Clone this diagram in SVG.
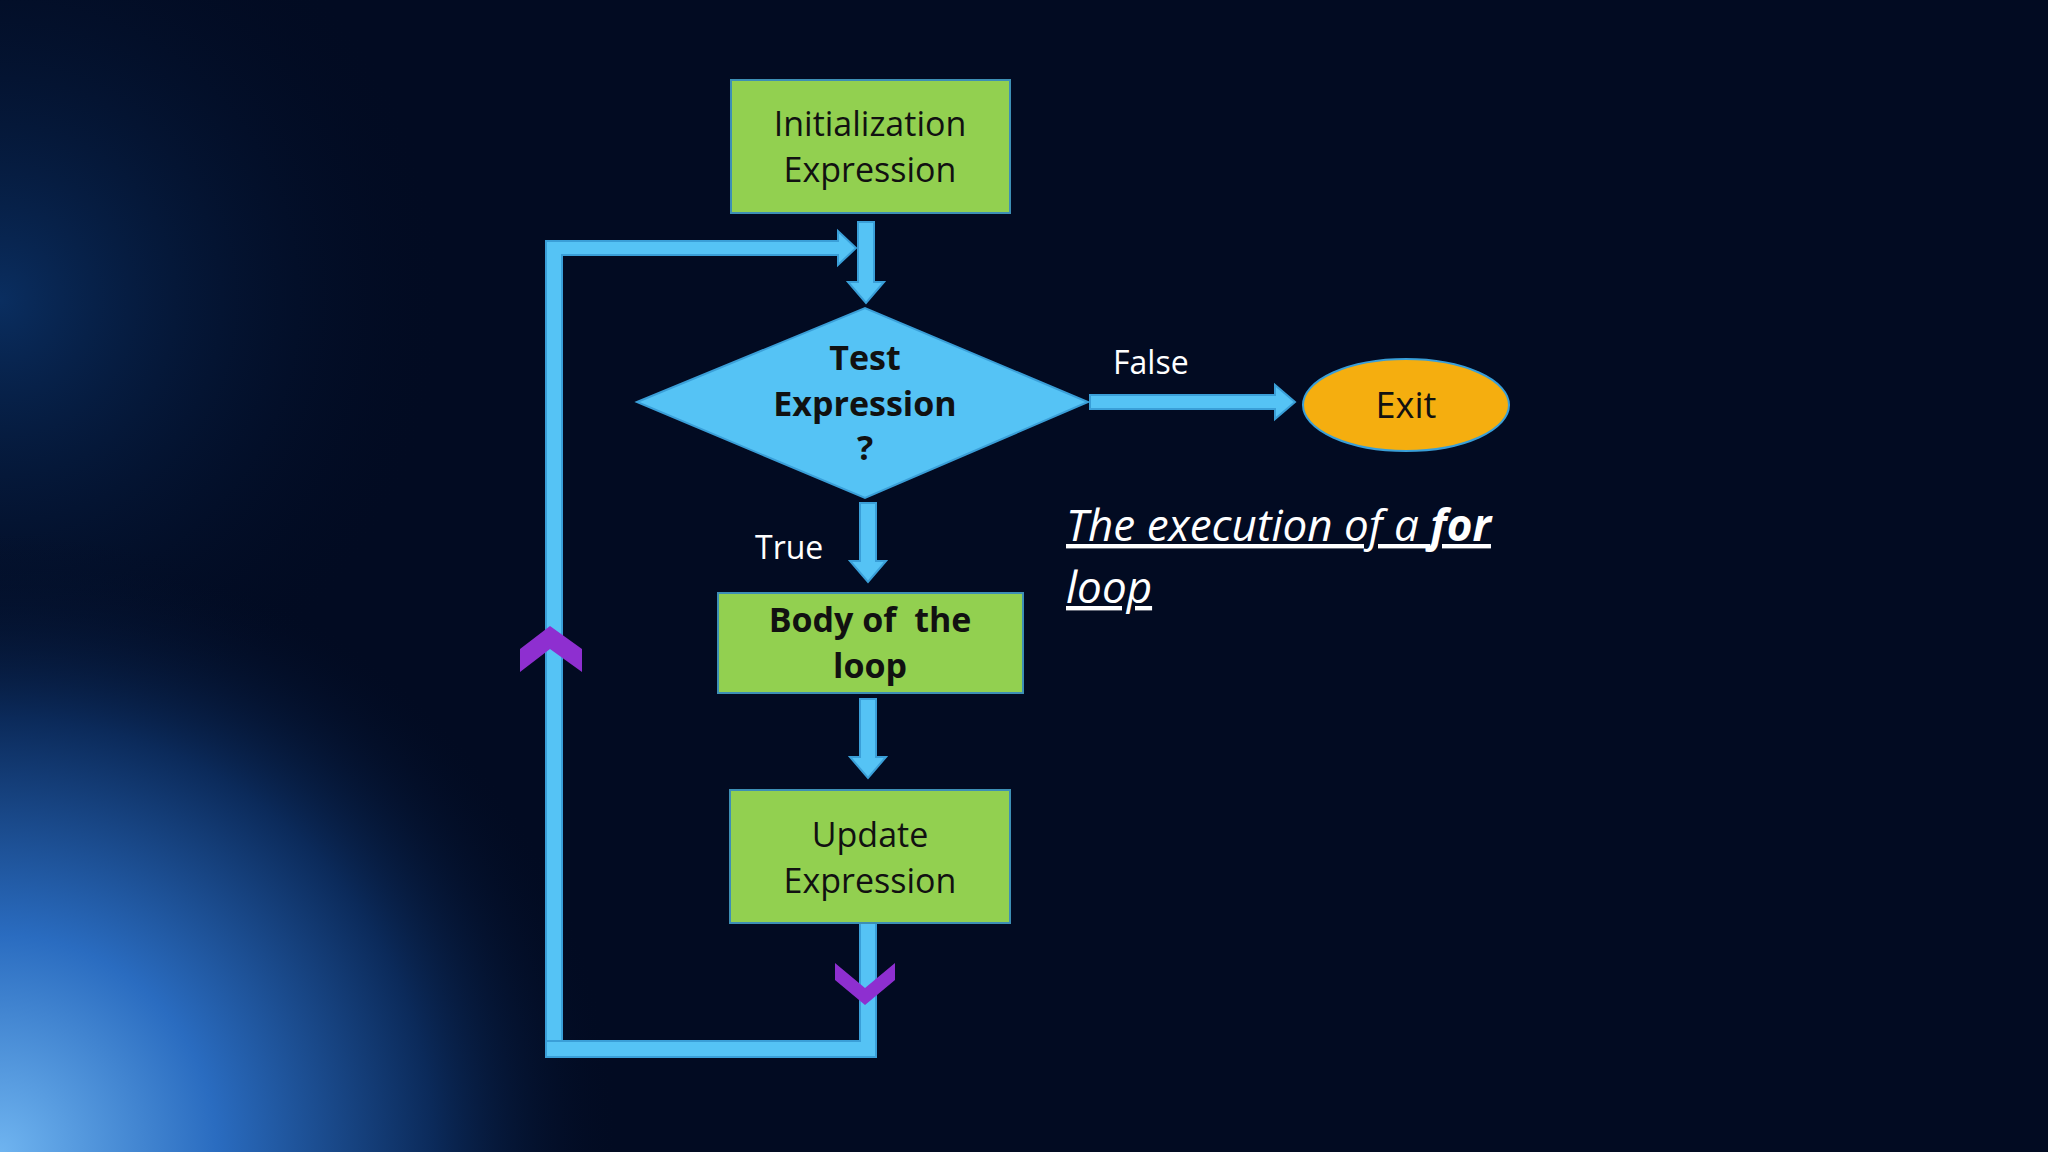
<svg xmlns="http://www.w3.org/2000/svg" width="2048" height="1152" viewBox="0 0 2048 1152">
<defs>
<radialGradient id="bg1" cx="0" cy="1152" r="620" gradientUnits="userSpaceOnUse">
<stop offset="0" stop-color="#6fb4f0"/><stop offset="0.35" stop-color="#2a6cc0"/><stop offset="0.7" stop-color="#0b2a5a"/><stop offset="1" stop-color="#020b22" stop-opacity="0"/>
</radialGradient>
<radialGradient id="bg2" cx="0" cy="300" r="450" gradientUnits="userSpaceOnUse">
<stop offset="0" stop-color="#0a2e60"/><stop offset="1" stop-color="#020b22" stop-opacity="0"/>
</radialGradient>
<style>
.box{fill:#92D050;stroke:#3d8fb5;stroke-width:2}
.arr{fill:#55C3F5;stroke:#3a9fd8;stroke-width:2}
.chev{fill:#8E2FD0}
.t{font-family:"Open Sans","Liberation Sans",sans-serif;font-size:34px;fill:#111;text-anchor:middle}
.b{font-weight:bold}
.w{font-family:"Open Sans","Liberation Sans",sans-serif;font-size:32px;fill:#fff}
</style>
</defs>
<rect width="2048" height="1152" fill="#020b22"/>
<rect width="2048" height="1152" fill="url(#bg2)"/>
<rect width="2048" height="1152" fill="url(#bg1)"/>
<g id="connectors">
<polygon class="arr" points="858,222 874,222 874,282 884,282 866,303 848,282 858,282"/>
<polygon class="arr" points="546,241 838,241 838,231 856,248 838,265 838,255 562,255 562,1041 546,1041"/>
<polygon class="arr" points="860,923 876,923 876,1057 546,1057 546,1041 860,1041"/>
<polygon class="arr" points="1090,395 1275,395 1275,385 1295,402 1275,419 1275,409 1090,409"/>
<polygon class="arr" points="860,503 876,503 876,561 886,561 868,582 850,561 860,561"/>
<polygon class="arr" points="860,699 876,699 876,757 886,757 868,778 850,757 860,757"/>
<polygon class="chev" points="835,963 865,988 895,963 895,980 865,1005 835,980"/>
<polygon class="chev" points="520,649 550,626 582,649 582,672 550,649 520,672"/>
</g>
<g id="init"><rect class="box" x="731" y="80" width="279" height="133"/>
<text class="t" x="870" y="136">Initialization</text><text class="t" x="870" y="182">Expression</text></g>
<g id="test"><polygon points="637,402 865,308 1088,402 865,498" fill="#55C3F5" stroke="#3a9fd8" stroke-width="2"/>
<text class="t b" x="865" y="370">Test</text><text class="t b" x="865" y="416">Expression</text><text class="t b" x="865" y="460">?</text></g>
<g id="exit"><ellipse cx="1406" cy="405" rx="103" ry="46" fill="#F5AE0F" stroke="#3a9fd8" stroke-width="2"/>
<text class="t" x="1406" y="418" style="font-size:36px">Exit</text></g>
<g id="body"><rect class="box" x="718" y="593" width="305" height="100"/>
<text class="t b" x="870" y="632">Body of&#160; the</text><text class="t b" x="870" y="678">loop</text></g>
<g id="update"><rect class="box" x="730" y="790" width="280" height="133"/>
<text class="t" x="870" y="847">Update</text><text class="t" x="870" y="893">Expression</text></g>
<text class="w" x="1113" y="374">False</text>
<text class="w" x="755" y="559">True</text>
<g id="caption" font-family="'Open Sans','Liberation Sans',sans-serif" font-size="44" font-style="italic" fill="#fff" text-decoration="underline">
<text x="1066" y="541">The execution of a <tspan font-weight="bold">for</tspan></text>
<text x="1066" y="603">loop</text></g>
</svg>
